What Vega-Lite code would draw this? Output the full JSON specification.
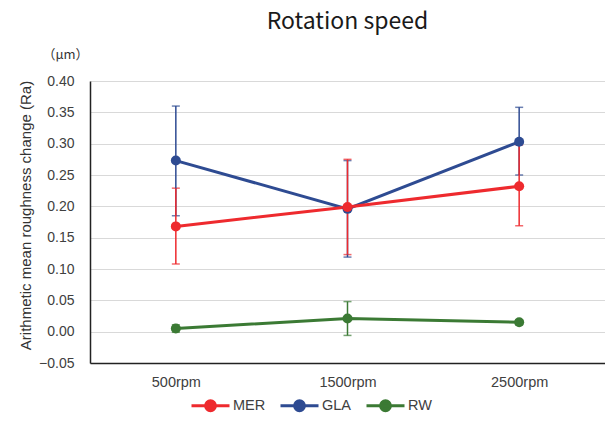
{
  "$schema": "https://vega.github.io/schema/vega-lite/v6.json",
  "width": 515,
  "height": 282,
  "autosize": "none",
  "padding": {"left": 90, "top": 81, "right": 0, "bottom": 67},
  "background": "white",
  "title": {
    "text": "Rotation speed",
    "font": "Noto Sans CJK JP",
    "fontSize": 23,
    "fontWeight": "normal",
    "color": "#1a1a1a",
    "anchor": "middle",
    "offset": 14
  },
  "data": {
    "values": [
      {"series": "GLA", "speed": "500rpm", "mean": 0.273, "lo": 0.185, "hi": 0.360},
      {"series": "GLA", "speed": "1500rpm", "mean": 0.196, "lo": 0.119, "hi": 0.273},
      {"series": "GLA", "speed": "2500rpm", "mean": 0.303, "lo": 0.250, "hi": 0.358},
      {"series": "MER", "speed": "500rpm", "mean": 0.168, "lo": 0.108, "hi": 0.229},
      {"series": "MER", "speed": "1500rpm", "mean": 0.199, "lo": 0.123, "hi": 0.275},
      {"series": "MER", "speed": "2500rpm", "mean": 0.232, "lo": 0.169, "hi": 0.298},
      {"series": "RW", "speed": "500rpm", "mean": 0.005, "lo": -0.001, "hi": 0.011},
      {"series": "RW", "speed": "1500rpm", "mean": 0.021, "lo": -0.006, "hi": 0.048},
      {"series": "RW", "speed": "2500rpm", "mean": 0.015, "lo": 0.011, "hi": 0.019}
    ]
  },
  "encoding": {
    "x": {
      "field": "speed",
      "type": "ordinal",
      "sort": ["500rpm", "1500rpm", "2500rpm"],
      "scale": {"type": "point", "padding": 0.5},
      "axis": {
        "title": null,
        "labelAngle": 0,
        "labelFont": "Liberation Sans",
        "labelFontSize": 14.5,
        "labelColor": "#404040",
        "labelPadding": 12,
        "ticks": false,
        "domainColor": "#222222",
        "domainWidth": 1.5,
        "grid": false
      }
    },
    "color": {
      "field": "series",
      "type": "nominal",
      "scale": {"domain": ["MER", "GLA", "RW"], "range": ["#ee2a2e", "#2e4b92", "#3b7a34"]},
      "title": null
    }
  },
  "layer": [
    {
      "mark": {"type": "errorbar", "thickness": 1.5, "ticks": {"size": 8, "thickness": 1.5}},
      "encoding": {
        "y": {
          "field": "lo",
          "type": "quantitative",
          "scale": {"domain": [-0.05, 0.4], "nice": false, "zero": false},
          "axis": {
            "values": [-0.05, 0, 0.05, 0.1, 0.15, 0.2, 0.25, 0.3, 0.35, 0.4],
            "format": ".2f",
            "labelFont": "Liberation Sans",
            "labelFontSize": 14,
            "labelColor": "#404040",
            "labelPadding": 16,
            "ticks": false,
            "domainColor": "#222222",
            "domainWidth": 1.5,
            "gridColor": "#d9d9d9",
            "gridWidth": 1,
            "title": "（μm）",
            "titleFont": "Noto Sans CJK JP",
            "titleFontSize": 13,
            "titleFontWeight": "normal",
            "titleColor": "#333333",
            "titleAngle": 0,
            "titleAlign": "center",
            "titleBaseline": "middle",
            "titleX": -25,
            "titleY": -27
          }
        },
        "y2": {"field": "hi"}
      }
    },
    {
      "mark": {"type": "line", "strokeWidth": 3},
      "encoding": {
        "y": {
          "field": "mean",
          "type": "quantitative",
          "axis": {
            "orient": "left",
            "labels": false,
            "ticks": false,
            "domain": false,
            "grid": false,
            "title": "Arithmetic mean roughness change (Ra)",
            "titleFont": "Liberation Sans",
            "titleFontSize": 15,
            "titleFontWeight": "normal",
            "titleColor": "#333333",
            "titleAngle": -90,
            "titleAlign": "center",
            "titleBaseline": "middle",
            "titleX": -65,
            "titleY": 134
          }
        }
      }
    },
    {
      "mark": {"type": "point", "filled": true, "size": 100, "opacity": 1},
      "encoding": {
        "y": {"field": "mean", "type": "quantitative", "axis": null}
      }
    }
  ],
  "resolve": {"axis": {"y": "independent"}},
  "config": {
    "view": {"stroke": null},
    "legend": {
      "orient": "none",
      "legendX": 100,
      "legendY": 304,
      "direction": "horizontal",
      "symbolType": "M-1,0H1M-0.26,0A0.26,0.26 0 1,0 0.26,0A0.26,0.26 0 1,0 -0.26,0Z",
      "symbolSize": 1444,
      "symbolStrokeWidth": 3,
      "symbolOpacity": 1,
      "labelFont": "Liberation Sans",
      "labelFontSize": 14.5,
      "labelColor": "#404040",
      "labelOffset": 2,
      "columnPadding": 8
    }
  }
}
